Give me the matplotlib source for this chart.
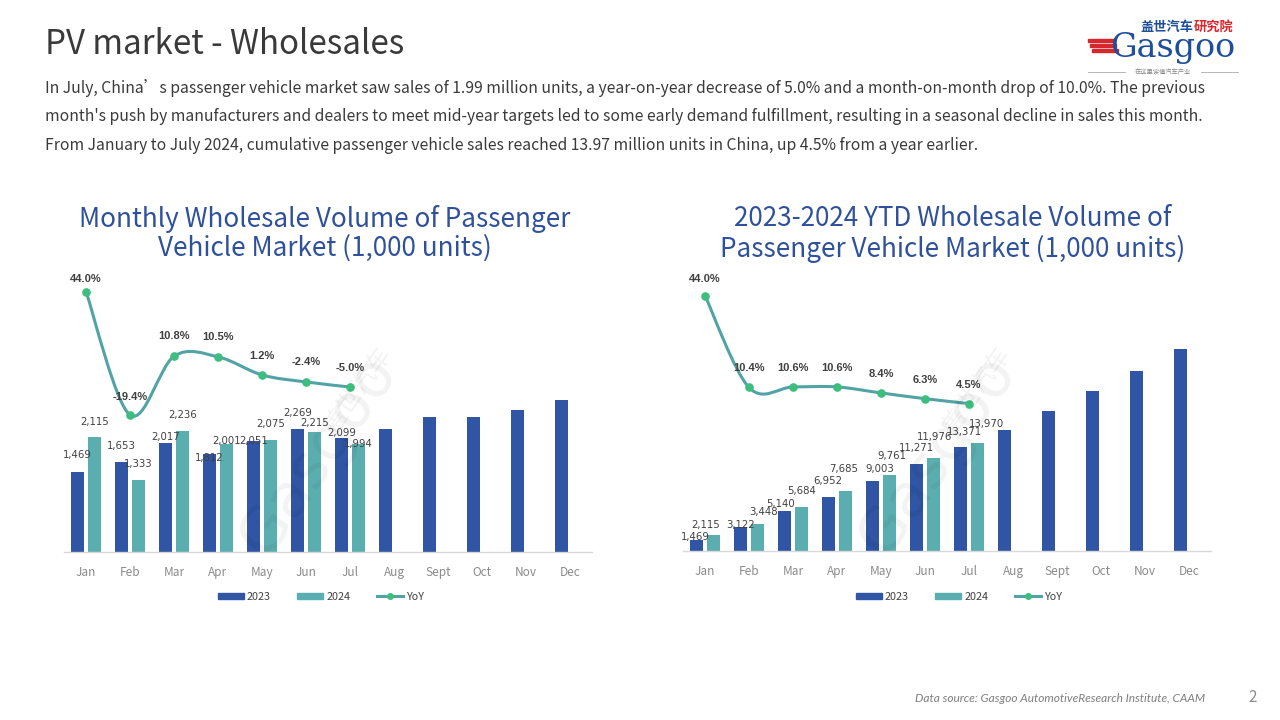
import matplotlib
matplotlib.use("Agg")
import matplotlib.pyplot as plt
from matplotlib.path import Path
from matplotlib.patches import PathPatch, Rectangle
from matplotlib.lines import Line2D
import numpy as np

# ---------------- data ----------------
months = ["Jan", "Feb", "Mar", "Apr", "May", "Jun", "Jul", "Aug", "Sept", "Oct", "Nov", "Dec"]
monthly_2023 = [1469, 1653, 2017, 1812, 2051, 2269, 2099, 2277, 2486, 2486, 2615, 2800]
monthly_2024 = [2115, 1333, 2236, 2001, 2075, 2215, 1994]
monthly_yoy = [44.0, -19.4, 10.8, 10.5, 1.2, -2.4, -5.0]
ytd_2023 = [1469, 3122, 5140, 6952, 9003, 11271, 13371, 15630, 18080, 20700, 23250, 26060]
ytd_2024 = [2115, 3448, 5684, 7685, 9761, 11976, 13970]
ytd_yoy = [44.0, 10.4, 10.6, 10.6, 8.4, 6.3, 4.5]

# label nudges (pixels) to mimic the reference layout
left_dy_2023 = [17, 16, 6, -4, 0, 16, 5, 0, 0, 0, 0, 0]
left_dy_2024 = [15, 16, 16, 3, 16, 9, 0]
right_dy_2023 = [3, 2, 7, 16, 12, 16, 15]
right_dy_2024 = [10, 12, 16, 22, 19, 21, 19]
right_dx_2023 = [-1, 0, -4, -1, 7, 0, 4]
right_dx_2024 = [-8, 6, 0, -2, 2, 1, 9]
left_yoy_dy = [13, 18, 20, 20, 19, 20, 19]
right_yoy_dy = [17, 19, 19, 19, 19, 19, 19]

C2023 = "#2F55A4"
C2024 = "#5BAEB0"
CLINE = "#52A3A6"
CMARK = "#3DBE7E"
CTITLE = "#2F519B"
CTEXT = "#404040"

CJK = ["Noto Sans CJK SC", "DejaVu Sans"]
NUM = ["DejaVu Sans"]
BOLDNUM = ["Liberation Sans", "DejaVu Sans"]

W, H = 1280, 720
fig = plt.figure(figsize=(12.8, 7.2), dpi=100)
fig.patch.set_facecolor("white")

def fx(px):
    return px / W

def fy(py):
    return 1 - py / H

PT = 72.0 / 100.0  # points per pixel

# ---------------- header ----------------
fig.text(fx(45), fy(44), "PV market - Wholesales", family=CJK, fontsize=23.8,
         weight="light", color="#3A3A3A", va="center", ha="left")
body = [
    "In July, China’s passenger vehicle market saw sales of 1.99 million units, a year-on-year decrease of 5.0% and a month-on-month drop of 10.0%. The previous",
    "month's push by manufacturers and dealers to meet mid-year targets led to some early demand fulfillment, resulting in a seasonal decline in sales this month.",
    "From January to July 2024, cumulative passenger vehicle sales reached 13.97 million units in China, up 4.5% from a year earlier.",
]
for i, line in enumerate(body):
    fig.text(fx(45), fy(88 + i * 28.5), line, family=CJK, fontsize=11.3,
             color="#3A3A3A", va="center", ha="left")

# logo
fig.text(fx(1140), fy(27), "盖世汽车", family=CJK, fontsize=9.5, weight="bold",
         color="#1F4E9A", va="center", ha="left")
fig.text(fx(1194), fy(27), "研究院", family=CJK, fontsize=9.5, weight="bold",
         color="#D7262C", va="center", ha="left")
fig.text(fx(1110), fy(48), "Gasgoo", family=["DejaVu Serif"], fontsize=24,
         color="#1F4E9A", va="center", ha="left")
for k in range(3):
    fig.patches.append(Rectangle((fx(1088 + k * 2), fy(42 + k * 5)), fx(26), 3 / H,
                                 transform=fig.transFigure, color="#D7262C"))
fig.text(fx(1163), fy(72), "在这里读懂汽车产业", family=CJK, fontsize=4.5,
         color="#888888", va="center", ha="center")
fig.lines.append(Line2D([fx(1088), fx(1125)], [fy(72), fy(72)], transform=fig.transFigure,
                        color="#AAAAAA", lw=0.6))
fig.lines.append(Line2D([fx(1201), fx(1238)], [fy(72), fy(72)], transform=fig.transFigure,
                        color="#AAAAAA", lw=0.6))

# footer
fig.text(fx(1205), fy(698), "Data source: Gasgoo AutomotiveResearch Institute, CAAM",
         family=["Lato", "DejaVu Sans"], fontsize=8.6, style="italic", color="#7F7F7F",
         ha="right", va="center")
fig.text(fx(1253), fy(698), "2", family=CJK, fontsize=11, weight="light",
         color="#8C8C8C", ha="center", va="center")


def smooth_path(xs, ys, t=1.0 / 6.0):
    pts = np.column_stack([xs, ys]).astype(float)
    n = len(pts)
    verts = [pts[0]]
    codes = [Path.MOVETO]
    for i in range(n - 1):
        p_prev = pts[i - 1] if i > 0 else pts[i]
        p0 = pts[i]
        p1 = pts[i + 1]
        p_next = pts[i + 2] if i + 2 < n else pts[i + 1]
        c1 = p0 + (p1 - p_prev) * t
        c2 = p1 - (p_next - p0) * t
        verts += [c1, c2, p1]
        codes += [Path.CURVE4] * 3
    return Path(verts, codes)


def make_chart(left_px, right_px, base_px, top_px, v23, v24, yoy, ymax, y2lim,
               dy23, dy24, dx23, dx24, yoy_dy, title_lines, title_x, legend_x):
    ax = fig.add_axes([fx(left_px), fy(base_px), fx(right_px - left_px),
                       (base_px - top_px) / H])
    ax.set_facecolor("none")
    n = len(months)
    x = np.arange(n)
    off = 0.195
    bw = 0.295
    x23 = x - off
    x24 = x[:len(v24)] + off
    ax.bar(x23, v23, width=bw, color=C2023, zorder=2)
    ax.bar(x24, v24, width=bw, color=C2024, zorder=2)
    ax.set_xlim(-0.5, n - 0.5)
    ax.set_ylim(0, ymax)
    for s in ["top", "left", "right"]:
        ax.spines[s].set_visible(False)
    ax.spines["bottom"].set_color("#D9D9D9")
    ax.spines["bottom"].set_linewidth(1.0)
    ax.set_yticks([])
    ax.set_xticks(x)
    ax.set_xticklabels(months, family=CJK, fontsize=8.5, color="#8A8A8A", weight="light")
    ax.tick_params(axis="x", length=0, pad=10)

    for i in range(len(v24)):
        ax.annotate(f"{v23[i]:,}", xy=(x23[i], v23[i]),
                    xytext=(dx23[i] * PT, dy23[i] * PT), textcoords="offset points",
                    ha="center", va="center", family=NUM, fontsize=7.3, color=CTEXT, zorder=5)
        ax.annotate(f"{v24[i]:,}", xy=(x24[i], v24[i]),
                    xytext=(dx24[i] * PT, dy24[i] * PT), textcoords="offset points",
                    ha="center", va="center", family=NUM, fontsize=7.3, color=CTEXT, zorder=5)

    ax2 = ax.twinx()
    ax2.set_ylim(*y2lim)
    ax2.set_xlim(-0.5, n - 0.5)
    for s in ax2.spines.values():
        s.set_visible(False)
    ax2.set_yticks([])
    xl = x[:len(yoy)]
    ax2.add_patch(PathPatch(smooth_path(xl, yoy), fill=False, edgecolor=CLINE, lw=2.2,
                            capstyle="round", joinstyle="round", zorder=3))
    ax2.plot(xl, yoy, linestyle="none", marker="o", markersize=5.2, color=CMARK, zorder=4)
    for i in range(len(yoy)):
        ax2.annotate(f"{yoy[i]:.1f}%", xy=(xl[i], yoy[i]),
                     xytext=(0, yoy_dy[i] * PT), textcoords="offset points",
                     ha="center", va="center", family=BOLDNUM, fontsize=8,
                     weight="bold", color=CTEXT, zorder=5)

    # watermark
    cx = (left_px + right_px) / 2 - 10
    fig.text(fx(cx), fy(455), "Gasgoo", family=["DejaVu Sans"], fontsize=44,
             color="#000000", alpha=0.05, rotation=55, ha="center", va="center")
    fig.text(fx(cx + 40), fy(390), "盖世汽车", family=CJK, fontsize=18,
             color="#000000", alpha=0.05, rotation=55, ha="center", va="center")

    for j, t in enumerate(title_lines):
        fig.text(fx(title_x), fy(219 + j * 29.5), t, family=CJK, fontsize=18.8,
                 color=CTITLE, ha="center", va="center")

    handles = [Rectangle((0, 0), 1, 1, color=C2023), Rectangle((0, 0), 1, 1, color=C2024),
               Line2D([0], [0], color=CLINE, lw=2.2, marker="o", markersize=4,
                      markerfacecolor=CMARK, markeredgecolor=CMARK)]
    leg = fig.legend(handles, ["2023", "2024", "YoY"], loc="center",
                     bbox_to_anchor=(fx(legend_x), fy(597)), ncol=3, frameon=False,
                     handlelength=2.4, handleheight=0.55, handletextpad=0.3,
                     columnspacing=2.45, prop={"family": CJK, "size": 7.8})
    for txt in leg.get_texts():
        txt.set_color("#404040")
    return ax


make_chart(64, 592, 552, 280, monthly_2023, monthly_2024, monthly_yoy,
           ymax=5021, y2lim=(-89.8, 50.0),
           dy23=left_dy_2023, dy24=left_dy_2024, dx23=[0] * 7, dx24=[0] * 7,
           yoy_dy=left_yoy_dy,
           title_lines=["Monthly Wholesale Volume of Passenger", "Vehicle Market (1,000 units)"],
           title_x=325, legend_x=321)

make_chart(683, 1211, 551, 280, ytd_2023, ytd_2024, ytd_yoy,
           ymax=35000, y2lim=(-49.4, 49.7),
           dy23=right_dy_2023, dy24=right_dy_2024, dx23=right_dx_2023, dx24=right_dx_2024,
           yoy_dy=right_yoy_dy,
           title_lines=["2023-2024 YTD Wholesale Volume of", "Passenger Vehicle Market (1,000 units)"],
           title_x=953, legend_x=959)

fig.savefig("out.png", dpi=100, facecolor="white")
